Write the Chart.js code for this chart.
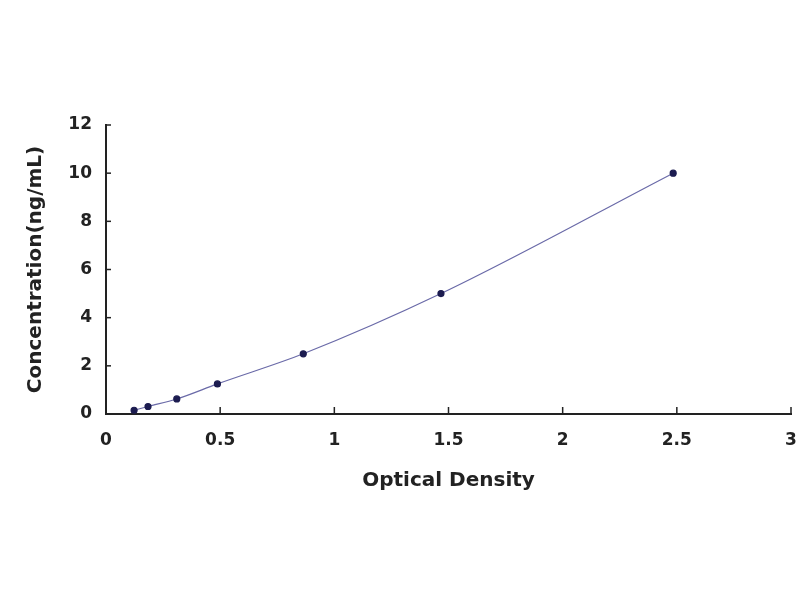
<!DOCTYPE html>
<html>
<head>
<meta charset="utf-8">
<script src="https://cdn.jsdelivr.net/npm/chart.js@4/dist/chart.umd.min.js"></script>
<style>
  html, body { margin: 0; padding: 0; background: #fff; }
  #wrap { width: 800px; height: 600px; }
</style>
</head>
<body>
<div id="wrap"><canvas id="curve" width="800" height="600"></canvas></div>
<script>
// standard curve readings
var od   = [0.123, 0.184, 0.31, 0.488, 0.864, 1.467, 2.484];
var conc = [0.156, 0.312, 0.625, 1.25, 2.5, 5, 10];
var xTicks = [0, 0.5, 1, 1.5, 2, 2.5, 3];
var yTicks = [0, 2, 4, 6, 8, 10, 12];

var points = od.map(function(v, i) { return { x: v, y: conc[i] }; });

// ticks drawn pointing into the plot, like the original
var innerTicks = {
  id: 'innerTicks',
  afterDraw: function(chart) {
    var ctx = chart.ctx, xs = chart.scales.x, ys = chart.scales.y;
    ctx.save();
    ctx.strokeStyle = '#222';
    ctx.lineWidth = 1.5;
    xTicks.forEach(function(t) {
      var px = xs.getPixelForValue(t);
      ctx.beginPath(); ctx.moveTo(px, ys.bottom); ctx.lineTo(px, ys.bottom - 7); ctx.stroke();
    });
    yTicks.forEach(function(t) {
      var py = ys.getPixelForValue(t);
      ctx.beginPath(); ctx.moveTo(xs.left, py); ctx.lineTo(xs.left + 5, py); ctx.stroke();
    });
    ctx.restore();
  }
};

var fam = 'DejaVu Sans, Arial, sans-serif';
var tickFont = { family: fam, size: 17, weight: 'bold' };

new Chart(document.getElementById('curve').getContext('2d'), {
  type: 'scatter',
  data: {
    datasets: [{
      data: points,
      showLine: true,
      cubicInterpolationMode: 'monotone',
      borderColor: '#6a6aa8',
      borderWidth: 1.2,
      pointRadius: 3,
      pointBackgroundColor: '#1c1c50',
      pointBorderColor: '#1c1c50'
    }]
  },
  options: {
    responsive: false,
    animation: false,
    layout: { padding: { top: 125, right: 9, left: 20, bottom: 0 } },
    plugins: { legend: { display: false }, tooltip: { enabled: false } },
    scales: {
      x: {
        type: 'linear', min: 0, max: 3,
        afterBuildTicks: function(s) { s.ticks = xTicks.map(function(v) { return { value: v }; }); },
        afterFit: function(s) { s.height = 186; s.paddingLeft = 0; s.paddingRight = 0; },
        grid: { display: false, drawTicks: false },
        border: { color: '#222', width: 2 },
        ticks: { color: '#222', font: tickFont, padding: 16, callback: function(v) { return String(v); } },
        title: {
          display: true, text: 'Optical Density', color: '#222',
          font: { family: fam, size: 20, weight: 'bold' },
          padding: { top: 12, bottom: 107 }
        }
      },
      y: {
        type: 'linear', min: 0, max: 12,
        afterBuildTicks: function(s) { s.ticks = yTicks.map(function(v) { return { value: v }; }); },
        afterFit: function(s) { s.width = 86; s.paddingTop = 0; s.paddingBottom = 0; },
        grid: { display: false, drawTicks: false },
        border: { color: '#222', width: 2 },
        ticks: { color: '#222', font: tickFont, padding: 14, callback: function(v) { return String(v); } },
        title: {
          display: true, text: 'Concentration(ng/mL)', color: '#222',
          font: { family: fam, size: 20, weight: 'bold' },
          padding: { bottom: 8 }
        }
      }
    }
  },
  plugins: [innerTicks]
});
</script>
</body>
</html>
